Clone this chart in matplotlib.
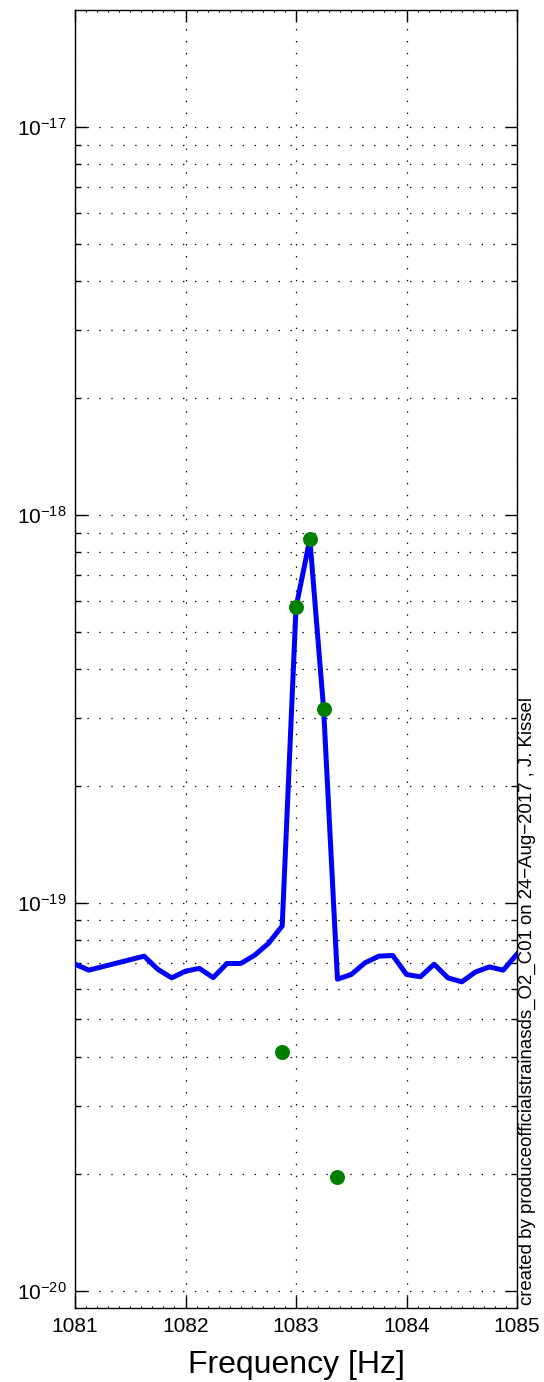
import numpy as np
import matplotlib
matplotlib.use("Agg")
import matplotlib.pyplot as plt
from matplotlib.ticker import FixedLocator, MultipleLocator, NullFormatter, LogFormatterSciNotation

# ========== DONNEES ==========
freq = [1081.0, 1081.125, 1081.625, 1081.75, 1081.875, 1082.0, 1082.125,
        1082.25, 1082.375, 1082.5, 1082.625, 1082.75, 1082.875, 1083.0,
        1083.125, 1083.25, 1083.375, 1083.5, 1083.625, 1083.75, 1083.875,
        1084.0, 1084.125, 1084.25, 1084.375, 1084.5, 1084.625, 1084.75,
        1084.875, 1085.0]
asd = [6.94e-20, 6.70e-20, 7.28e-20, 6.73e-20, 6.40e-20, 6.66e-20, 6.77e-20,
       6.41e-20, 6.97e-20, 6.97e-20, 7.32e-20, 7.85e-20, 8.71e-20, 5.77e-19,
       8.65e-19, 3.15e-19, 6.35e-20, 6.53e-20, 7.00e-20, 7.28e-20, 7.31e-20,
       6.53e-20, 6.44e-20, 6.94e-20, 6.40e-20, 6.25e-20, 6.63e-20, 6.83e-20,
       6.70e-20, 7.37e-20]

freq_pts = [1082.875, 1083.0, 1083.125, 1083.25, 1083.375]
asd_pts = [4.12e-20, 5.77e-19, 8.65e-19, 3.15e-19, 1.96e-20]

xticks = [1081, 1082, 1083, 1084, 1085]
yticks = [1e-20, 1e-19, 1e-18, 1e-17]
credit = "created by produceofficialstrainasds_O2_C01 on 24\u2212Aug\u22122017 , J. Kissel"

# ========== STYLE ==========
plt.rcParams['font.family'] = ['Liberation Sans', 'DejaVu Sans']
plt.rcParams['mathtext.fontset'] = 'custom'
plt.rcParams['mathtext.rm'] = 'Liberation Sans'
plt.rcParams['mathtext.it'] = 'Liberation Sans'
plt.rcParams['lines.scale_dashes'] = False

fig = plt.figure(figsize=(5.44, 13.82), dpi=100)
ax = fig.add_axes([0.1379, 0.0533, 0.8125, 0.9394])

ax.plot(freq, asd, color=(0, 0, 1), linewidth=3.6, zorder=3)
ax.plot(freq_pts, asd_pts, 'o', color=(0, 0.5, 0), markersize=10.8,
        markeredgewidth=0, zorder=4)

ax.set_yscale('log')
ax.set_xlim(1081, 1085)
ax.set_ylim(9e-21, 2e-17)

# graduations
ax.set_xticks(xticks)
ax.set_xticklabels([str(t) for t in xticks])
ax.xaxis.set_minor_locator(MultipleLocator(0.1))
ax.yaxis.set_major_locator(FixedLocator(yticks))
ax.yaxis.set_major_formatter(LogFormatterSciNotation())
minor_y = [m * d for d in [1e-21, 1e-20, 1e-19, 1e-18, 1e-17] for m in range(2, 10)]
minor_y = [v for v in minor_y if 9e-21 < v < 2e-17]
ax.yaxis.set_minor_locator(FixedLocator(minor_y))
ax.yaxis.set_minor_formatter(NullFormatter())

ax.tick_params(axis='both', which='both', direction='in', top=True, right=True,
               labelsize=15, colors='k')
ax.tick_params(axis='both', which='major', length=8.5, width=1.0, pad=6)
ax.tick_params(axis='y', which='minor', length=4.5, width=1.0)
ax.tick_params(axis='x', which='minor', length=1.5, width=0.8)

ax.grid(True, which='major', axis='x', color='k', linestyle=(0, (1, 7.6)), linewidth=0.9)
ax.grid(True, which='both', axis='y', color='k', linestyle=(0, (1, 7.6)), linewidth=0.9)

for s in ax.spines.values():
    s.set_linewidth(1.0)

ax.set_xlabel('Frequency [Hz]', fontsize=23, labelpad=10)

fig.text(527 / 544, 1 - 1305 / 1382, credit, rotation=90, fontsize=13.4,
         ha='center', va='bottom')

fig.savefig('out.png', dpi=100)
